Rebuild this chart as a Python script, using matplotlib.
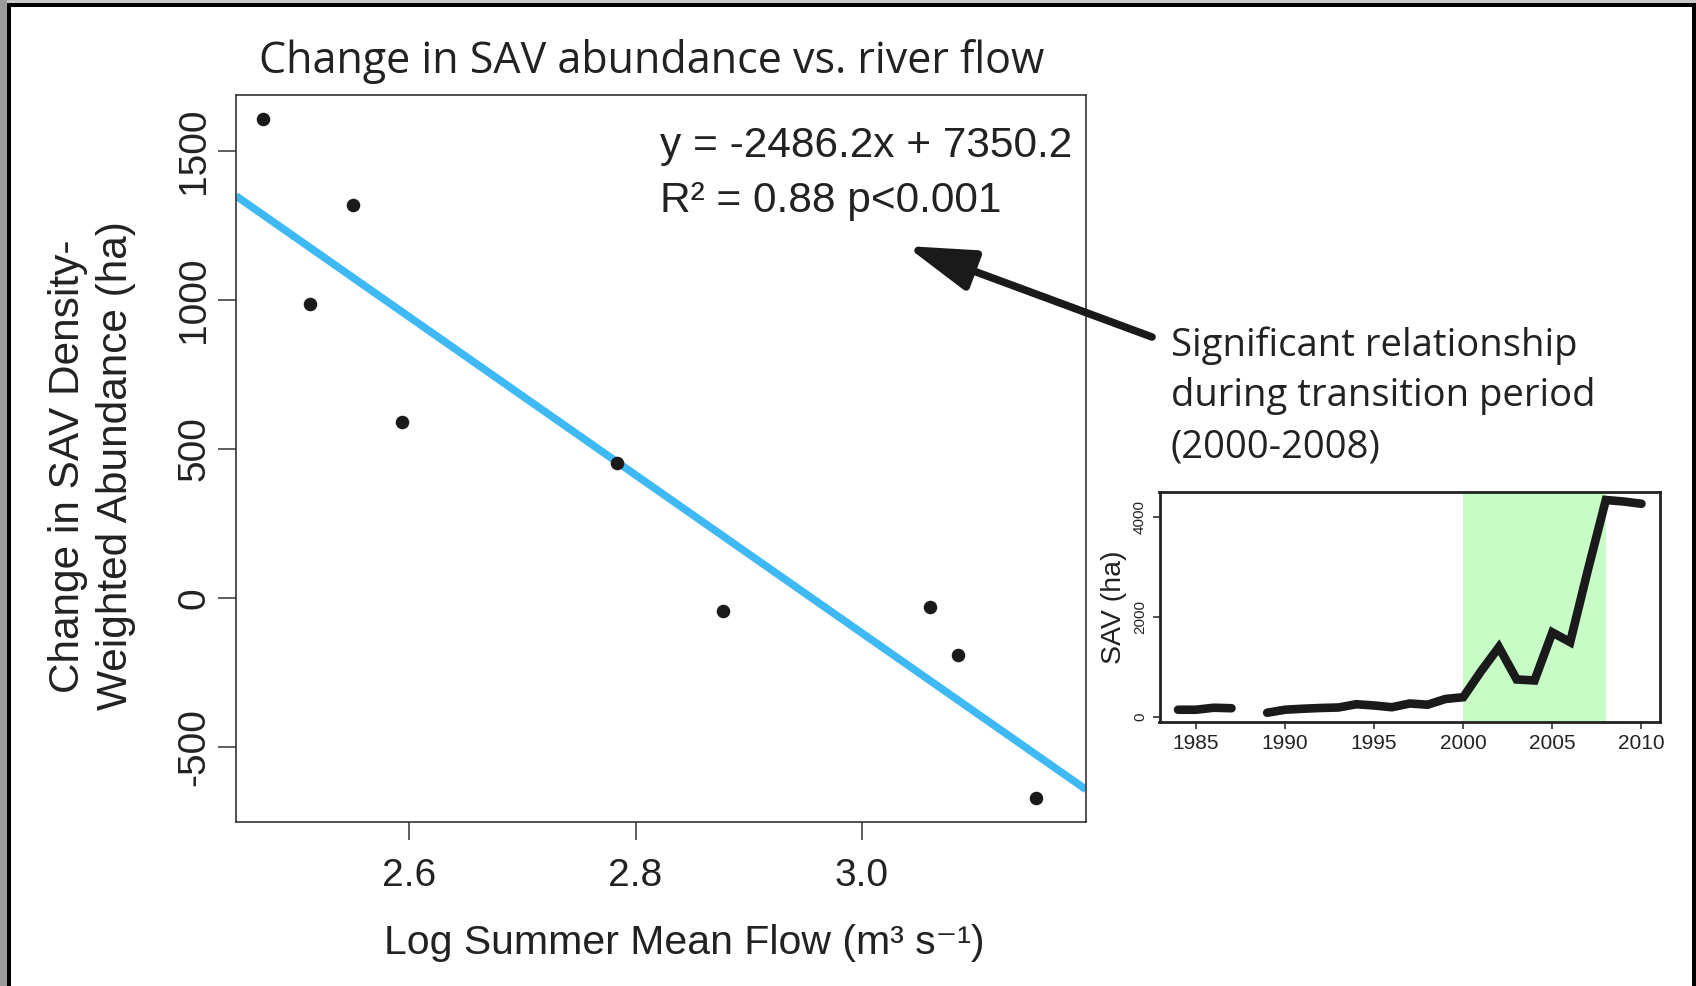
import numpy as np
import matplotlib.pyplot as plt
from matplotlib.patches import Rectangle, FancyArrowPatch

# main panel: log summer mean flow vs change in SAV abundance
log_flow = [2.471, 2.550, 2.512, 2.594, 2.784, 2.877, 3.060, 3.085, 3.154]
sav_change = [1605, 1319, 985, 590, 453, -44, -29, -192, -671]

# inset: SAV area per year (1988 missing)
years = list(range(1984, 2011))
sav_area = [150, 150, 190, 180, np.nan, 90, 150, 170, 185, 195, 260, 235, 200,
            275, 250, 365, 400, 920, 1400, 755, 735, 1695, 1500, 2950, 4340,
            4310, 4265]
transition = (2000, 2008)

eq_text = "y = -2486.2x + 7350.2\nR² = 0.88 p<0.001"
note_text = "Significant relationship\nduring transition period\n(2000-2008)"

W, H = 1696, 986
fig = plt.figure(figsize=(W / 100, H / 100), dpi=100, facecolor="white")

# outer frame like the screenshot
def px_rect(x0, y0, x1, y1, color):
    fig.patches.append(Rectangle((x0 / W, 1 - y1 / H), (x1 - x0) / W, (y1 - y0) / H,
                                 transform=fig.transFigure, color=color, lw=0, zorder=0))

px_rect(0, 0, W, 3, "#c8c8c8")
px_rect(0, 0, 7, H, "#9a9a9a")
px_rect(7, 3, W, 7, "black")
px_rect(7, 3, 11, H, "black")
px_rect(1692, 3, W, H, "black")

axis_font = ["Liberation Sans", "DejaVu Sans"]
label_font = "Open Sans"
ink = "#222222"

# ---- main scatter ----
ax = fig.add_axes([236 / W, 1 - 822 / H, 850 / W, 727 / H])
ax.scatter(log_flow, sav_change, s=95, color="#1a1a1a", zorder=3, linewidths=0)
slope, icept = np.polyfit(log_flow, sav_change, 1)
xlim = (2.447, 3.198)
xx = np.array(xlim)
ax.plot(xx, slope * xx + icept, color="#3fb9f4", lw=5.5, solid_capstyle="butt", zorder=2)
ax.set_xlim(*xlim)
ax.set_ylim(-750, 1686)
ax.set_xticks([2.6, 2.8, 3.0])
ax.set_xticklabels(["2.6", "2.8", "3.0"])
ax.set_yticks([-500, 0, 500, 1000, 1500])
ax.set_yticklabels(["-500", "0", "500", "1000", "1500"], rotation=90, va="center")
ax.tick_params(length=13, width=1.1, color="#333333", labelsize=28)
ax.tick_params(axis="y", pad=4)
ax.tick_params(axis="x", pad=13)
for lab in ax.get_xticklabels() + ax.get_yticklabels():
    lab.set_fontfamily(axis_font)
    lab.set_color(ink)
for sp in ax.spines.values():
    sp.set_linewidth(1.2)
    sp.set_color("#333333")

ax.text(0.499, 0.957, eq_text, transform=ax.transAxes, ha="left", va="top",
        fontsize=30.5, family=axis_font, color=ink, linespacing=1.48)

fig.text(652 / W, 1 - 61 / H, "Change in SAV abundance vs. river flow",
         ha="center", va="center", fontsize=31, family=label_font, color=ink)
fig.text(684 / W, 1 - 943 / H, "Log Summer Mean Flow (m³ s⁻¹)",
         ha="center", va="center", fontsize=29.5, family=axis_font, color=ink)
fig.text(92 / W, 1 - 466 / H, "Change in SAV Density-\nWeighted Abundance (ha)",
         ha="center", va="center", rotation=90, fontsize=30.5, family=axis_font,
         color=ink, linespacing=1.24)

# annotation + arrow
fig.text(1171 / W, 1 - 326 / H, note_text, ha="left", va="top", fontsize=27.5,
         family=label_font, color=ink, linespacing=1.44)
arrow = FancyArrowPatch((1152 / W, 1 - 337 / H), (906 / W, 1 - 246 / H),
                        transform=fig.transFigure,
                        arrowstyle="-|>,head_length=2.3,head_width=0.7",
                        mutation_scale=18, lw=5.5, color="#1a1a1a", shrinkA=0, shrinkB=0)
fig.patches.append(arrow)

# ---- inset time series ----
ins = fig.add_axes([1159.5 / W, 1 - 721.5 / H, 500.5 / W, 229.5 / H])
ins.axvspan(*transition, color="#c8fcc6", lw=0, zorder=0)
ins.plot(years, sav_area, color="#1a1a1a", lw=6.2, solid_capstyle="round",
         solid_joinstyle="miter", zorder=2)
ins.set_xlim(1982.96, 2011.04)
ins.set_ylim(-85, 4500)
ins.set_xticks([1985, 1990, 1995, 2000, 2005, 2010])
ins.set_yticks([0, 2000, 4000])
ins.set_yticklabels(["0", "2000", "4000"], rotation=90, va="center")
ins.tick_params(length=5, width=1.2, color="#333333", pad=4)
ins.tick_params(axis="x", labelsize=15)
ins.tick_params(axis="y", labelsize=11)
for lab in ins.get_xticklabels() + ins.get_yticklabels():
    lab.set_fontfamily(axis_font)
    lab.set_color(ink)
ins.set_ylabel("SAV (ha)", fontsize=20.5, family=axis_font, color=ink, labelpad=4)
for sp in ins.spines.values():
    sp.set_linewidth(2)
    sp.set_color(ink)

fig.savefig("out.png", dpi=100, facecolor="white")
